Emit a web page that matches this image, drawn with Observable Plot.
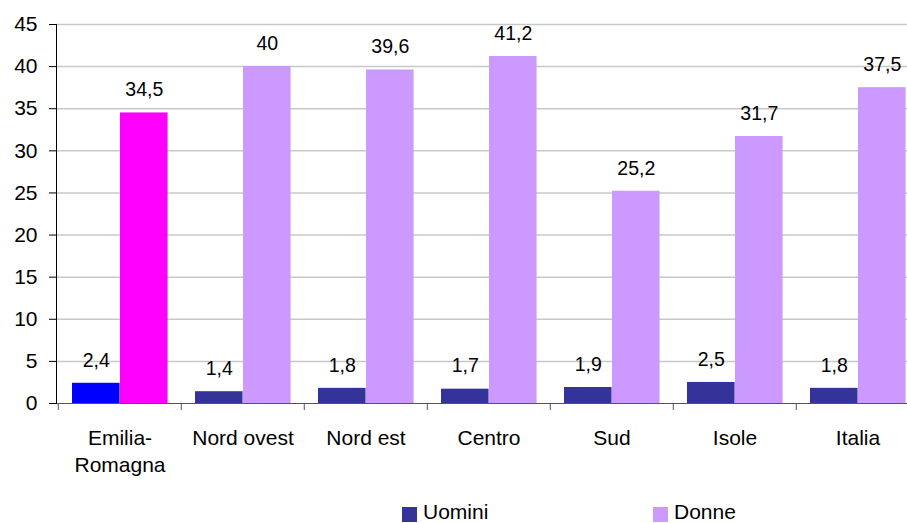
<!DOCTYPE html>
<html>
<head>
<meta charset="utf-8">
<script src="https://cdn.jsdelivr.net/npm/d3@7"></script>
<script src="https://cdn.jsdelivr.net/npm/@observablehq/plot@0.6"></script>
<style>
  body { margin: 0; background: #fff; font-family: "Liberation Sans", Arial, sans-serif; }
  #chart { width: 907px; }
  #legend { position: relative; width: 907px; height: 28px; font-size: 21px; color: #000; }
  .sw { position: absolute; width: 15px; height: 15px; top: 12px; }
  .lb { position: absolute; top: 5px; line-height: 24px; }
</style>
</head>
<body>
<div id="chart"></div>
<div id="legend">
  <div class="sw" style="left:402px;background:#333399"></div><div class="lb" style="left:423px">Uomini</div>
  <div class="sw" style="left:653px;background:#cc99ff"></div><div class="lb" style="left:674px">Donne</div>
</div>
<script>
const categories = ["Emilia-Romagna", "Nord ovest", "Nord est", "Centro", "Sud", "Isole", "Italia"];
const tickLabels = ["Emilia-\nRomagna", "Nord ovest", "Nord est", "Centro", "Sud", "Isole", "Italia"];
const uomini = [2.4, 1.4, 1.8, 1.7, 1.9, 2.5, 1.8];
const donne = [34.5, 40, 39.6, 41.2, 25.2, 31.7, 37.5];
const yTicks = [0, 5, 10, 15, 20, 25, 30, 35, 40, 45];

const dataU = categories.map((c, i) => ({cat: c, value: uomini[i], hi: i === 0}));
const dataD = categories.map((c, i) => ({cat: c, value: donne[i], hi: i === 0}));
const fmt = v => String(v).replace(".", ",");
const labelMap = new Map(categories.map((c, i) => [c, tickLabels[i]]));

const bw = (920 - 56) / categories.length;

const chart = Plot.plot({
  width: 907,
  height: 495,
  marginTop: 24,
  marginBottom: 92,
  marginLeft: 56,
  marginRight: 0,
  style: {fontFamily: "'Liberation Sans', Arial, sans-serif", fontSize: "21px", color: "#000", background: "#fff"},
  x: {domain: categories, range: [56, 920], padding: 0, label: null},
  y: {domain: [0, 45], label: null},
  marks: [
    Plot.gridY(yTicks.filter(d => d > 0), {stroke: "#c8c8c8", strokeOpacity: 1, strokeWidth: 1.5}),
    Plot.barY(dataU, {x: "cat", y: "value", fill: d => d.hi ? "#0000ff" : "#333399", insetLeft: 14, insetRight: bw - 62}),
    Plot.barY(dataD, {x: "cat", y: "value", fill: d => d.hi ? "#ff00ff" : "#cc99ff", insetLeft: 62, insetRight: bw - 110}),
    Plot.ruleY([0], {stroke: "#555"}),
    Plot.frame({anchor: "left", stroke: "#000"}),
    Plot.axisX({tickSize: 7, tickFormat: () => "", dx: -bw / 2, stroke: "#555", strokeOpacity: 1}),
    Plot.axisX({tickSize: 0, tickPadding: 22, tickFormat: d => labelMap.get(d), fontSize: 21, lineHeight: 1.3, fill: "#000"}),
    Plot.axisY({ticks: yTicks, tickSize: 7, tickPadding: 12, fontSize: 21, fill: "#000", stroke: "#000", strokeOpacity: 1}),
    Plot.text(dataU, {x: "cat", y: "value", text: d => fmt(d.value), dx: 38 - bw / 2, dy: -23, fontSize: 19.5, fill: "#000"}),
    Plot.text(dataD, {x: "cat", y: "value", text: d => fmt(d.value), dx: 86 - bw / 2, dy: -23, fontSize: 19.5, fill: "#000"})
  ]
});
document.getElementById("chart").appendChild(chart);
</script>
</body>
</html>
